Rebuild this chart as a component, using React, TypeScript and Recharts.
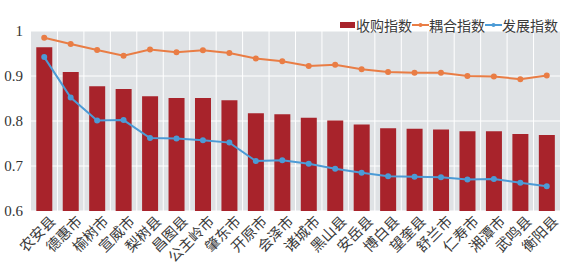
import { ComposedChart, Bar, Line, XAxis, YAxis, CartesianGrid, Legend } from "recharts"

const regions = [
  "农安县", "德惠市", "榆树市", "宣威市", "梨树县", "昌图县", "公主岭市", "肇东市", "开原市", "会泽市",
  "诸城市", "黑山县", "安岳县", "博白县", "望奎县", "舒兰市", "仁寿市", "湘潭市", "武鸣县", "衡阳县",
]
const acquisition = [
  0.964, 0.909, 0.877, 0.871, 0.855, 0.851, 0.851, 0.846, 0.817, 0.815,
  0.807, 0.801, 0.792, 0.784, 0.783, 0.781, 0.777, 0.777, 0.771, 0.769,
]
const coupling = [
  0.985, 0.971, 0.958, 0.945, 0.959, 0.953, 0.957, 0.951, 0.939, 0.933,
  0.922, 0.925, 0.915, 0.909, 0.907, 0.907, 0.9, 0.899, 0.893, 0.901,
]
const development = [
  0.942, 0.852, 0.801, 0.802, 0.762, 0.761, 0.757, 0.752, 0.711, 0.713,
  0.705, 0.694, 0.685, 0.677, 0.676, 0.675, 0.67, 0.671, 0.663, 0.655,
]
const yTicks = [0.6, 0.7, 0.8, 0.9, 1]

const data = regions.map((name, i) => ({
  name,
  acquisition: acquisition[i],
  coupling: coupling[i],
  development: development[i],
}))

const BAR = "#a8232b"
const ORANGE = "#e97d45"
const BLUE = "#4c9bd6"
const cjk = '"Noto Sans CJK SC", sans-serif'
const serif = '"Liberation Serif", serif'

function LegendBox() {
  const items = [
    { label: "收购指数", color: BAR, kind: "bar" },
    { label: "耦合指数", color: ORANGE, kind: "line" },
    { label: "发展指数", color: BLUE, kind: "line" },
  ]
  return (
    <div style={{ display: "flex", alignItems: "center", fontFamily: cjk, fontSize: 14, color: "#3a3a3a" }}>
      {items.map((it) => (
        <div key={it.label} style={{ display: "flex", alignItems: "center" }}>
          <svg width={17} height={10}>
            {it.kind === "bar" ? (
              <rect x={1} y={2} width={15} height={6} fill={it.color} />
            ) : (
              <>
                <line x1={0} y1={5} x2={17} y2={5} stroke={it.color} strokeWidth={2} />
                <circle cx={8.5} cy={5} r={2} fill={it.color} />
              </>
            )}
          </svg>
          <span>{it.label}</span>
        </div>
      ))}
    </div>
  )
}

export default function App() {
  return (
    <div style={{ width: 566, height: 267 }}>
      <style>{"body{margin:0}"}</style>
      <ComposedChart
        width={566}
        height={267}
        data={data}
        margin={{ top: 11, right: 6, left: 0, bottom: 0 }}
        barCategoryGap="20%"
      >
        <CartesianGrid
          fill="#dfe2e5"
          stroke="#ffffff"
          strokeWidth={1}
          verticalCoordinatesGenerator={({ offset }: any) =>
            regions.map((_, i) => offset.left + (i * offset.width) / regions.length).slice(1)
          }
        />
        <XAxis
          dataKey="name"
          interval={0}
          axisLine={false}
          tickLine={false}
          height={56}
          tick={{ fontFamily: cjk, fontSize: 14.5, fill: "#3a3a3a" }}
          angle={-45}
          textAnchor="end"
          dx={5}
          dy={-4}
        />
        <YAxis
          domain={[0.6, 1]}
          ticks={yTicks}
          width={31}
          axisLine={false}
          tickLine={false}
          tickFormatter={(v: number) => String(v)}
          tick={{ fontFamily: serif, fontSize: 15, fill: "#333" }}
        />
        <Legend
          verticalAlign="top"
          align="right"
          content={() => <LegendBox />}
          wrapperStyle={{ top: 15, right: 8, width: "auto", left: "auto" }}
        />
        <Bar dataKey="acquisition" fill={BAR} isAnimationActive={false} />
        <Line
          dataKey="coupling"
          stroke={ORANGE}
          strokeWidth={2}
          dot={{ r: 2, fill: ORANGE, stroke: ORANGE }}
          isAnimationActive={false}
        />
        <Line
          dataKey="development"
          stroke={BLUE}
          strokeWidth={2}
          dot={{ r: 2, fill: BLUE, stroke: BLUE }}
          isAnimationActive={false}
        />
      </ComposedChart>
    </div>
  )
}
